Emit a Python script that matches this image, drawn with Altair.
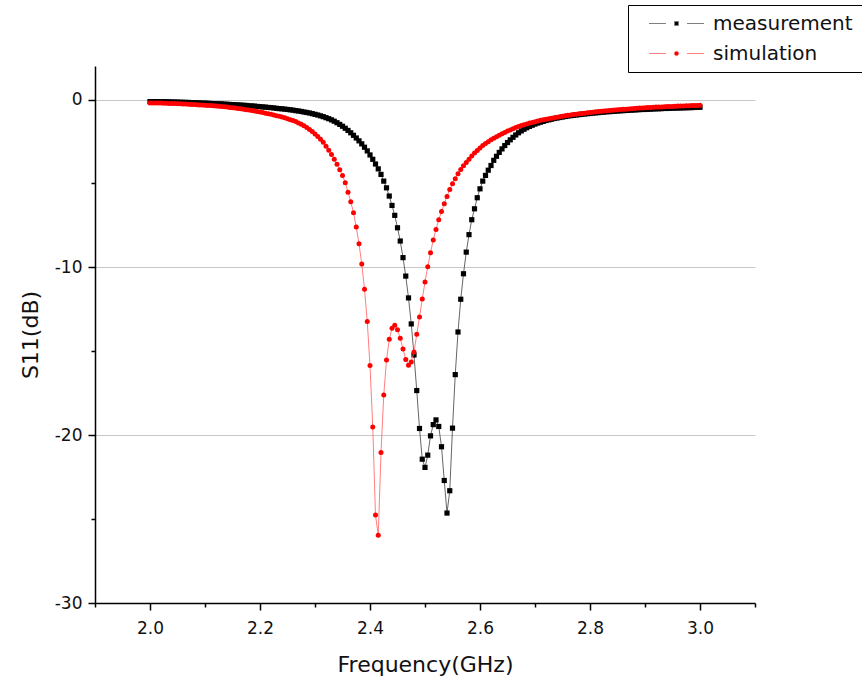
import altair as alt
import pandas as pd

SERIES = ["measurement", "simulation"]
FREQ_START_GHZ = 2.0
FREQ_STEP_GHZ = 0.005

measurement_db = [
    -0.12, -0.12, -0.12, -0.12, -0.13, -0.13, -0.13, -0.14, -0.14, -0.15,
    -0.15, -0.16, -0.16, -0.17, -0.17, -0.18, -0.19, -0.19, -0.20, -0.21,
    -0.21, -0.22, -0.23, -0.24, -0.25, -0.25, -0.26, -0.27, -0.28, -0.29,
    -0.30, -0.31, -0.32, -0.33, -0.34, -0.35, -0.37, -0.38, -0.39, -0.41,
    -0.42, -0.44, -0.45, -0.47, -0.48, -0.50, -0.52, -0.54, -0.55, -0.57,
    -0.59, -0.61, -0.63, -0.66, -0.68, -0.71, -0.74, -0.77, -0.80, -0.84,
    -0.88, -0.92, -0.97, -1.02, -1.08, -1.14, -1.21, -1.29, -1.38, -1.48,
    -1.59, -1.71, -1.84, -1.98, -2.13, -2.29, -2.46, -2.64, -2.84, -3.06,
    -3.30, -3.56, -3.84, -4.13, -4.46, -4.86, -5.26, -5.75, -6.31, -6.90,
    -7.64, -8.43, -9.42, -10.52, -11.82, -13.37, -15.22, -17.34, -19.60, -21.43,
    -21.92, -21.19, -20.04, -19.37, -19.09, -19.48, -20.69, -22.70, -24.64, -23.31,
    -19.58, -16.39, -13.85, -11.90, -10.38, -9.09, -8.05, -7.16, -6.51, -5.85,
    -5.32, -4.86, -4.52, -4.21, -3.93, -3.62, -3.38, -3.15, -2.94, -2.74,
    -2.56, -2.40, -2.25, -2.11, -1.98, -1.87, -1.77, -1.68, -1.60, -1.53,
    -1.46, -1.40, -1.35, -1.30, -1.25, -1.21, -1.17, -1.13, -1.10, -1.07,
    -1.04, -1.01, -0.98, -0.96, -0.94, -0.92, -0.90, -0.88, -0.86, -0.84,
    -0.83, -0.81, -0.79, -0.78, -0.76, -0.75, -0.73, -0.72, -0.71, -0.70,
    -0.68, -0.67, -0.66, -0.65, -0.64, -0.63, -0.62, -0.61, -0.60, -0.59,
    -0.59, -0.58, -0.57, -0.56, -0.55, -0.55, -0.54, -0.53, -0.53, -0.52,
    -0.51, -0.51, -0.50, -0.50, -0.49, -0.49, -0.48, -0.48, -0.47, -0.46,
    -0.46,
]

simulation_db = [
    -0.20, -0.20, -0.20, -0.21, -0.21, -0.22, -0.22, -0.23, -0.23, -0.24,
    -0.25, -0.25, -0.26, -0.27, -0.28, -0.29, -0.30, -0.31, -0.32, -0.33,
    -0.34, -0.35, -0.36, -0.37, -0.39, -0.40, -0.42, -0.43, -0.45, -0.47,
    -0.49, -0.51, -0.53, -0.55, -0.57, -0.60, -0.62, -0.65, -0.68, -0.71,
    -0.74, -0.77, -0.81, -0.84, -0.88, -0.92, -0.96, -1.00, -1.04, -1.09,
    -1.14, -1.20, -1.25, -1.31, -1.39, -1.47, -1.56, -1.66, -1.78, -1.91,
    -2.05, -2.20, -2.36, -2.55, -2.78, -3.02, -3.28, -3.55, -3.85, -4.18,
    -4.52, -4.96, -5.52, -6.09, -6.74, -7.60, -8.59, -9.80, -11.31, -13.23,
    -15.85, -19.51, -24.76, -25.97, -21.03, -17.60, -15.52, -14.29, -13.63, -13.45,
    -13.71, -14.23, -14.86, -15.49, -15.83, -15.64, -15.04, -13.99, -12.96, -11.89,
    -10.87, -9.96, -9.13, -8.37, -7.74, -7.16, -6.67, -6.21, -5.77, -5.36,
    -5.02, -4.72, -4.42, -4.17, -3.95, -3.75, -3.55, -3.36, -3.19, -3.03,
    -2.88, -2.74, -2.62, -2.51, -2.40, -2.30, -2.21, -2.12, -2.04, -1.96,
    -1.88, -1.81, -1.74, -1.67, -1.61, -1.55, -1.50, -1.45, -1.40, -1.36,
    -1.32, -1.28, -1.24, -1.20, -1.17, -1.14, -1.11, -1.08, -1.05, -1.02,
    -0.99, -0.97, -0.94, -0.92, -0.89, -0.87, -0.85, -0.83, -0.81, -0.79,
    -0.77, -0.75, -0.73, -0.71, -0.70, -0.68, -0.66, -0.65, -0.63, -0.62,
    -0.61, -0.59, -0.58, -0.57, -0.56, -0.55, -0.53, -0.52, -0.51, -0.50,
    -0.49, -0.48, -0.47, -0.46, -0.45, -0.45, -0.44, -0.43, -0.42, -0.41,
    -0.41, -0.40, -0.39, -0.39, -0.38, -0.37, -0.37, -0.36, -0.36, -0.35,
    -0.34,
]

X_TICKS = [1.9, 2.0, 2.1, 2.2, 2.3, 2.4, 2.5, 2.6, 2.7, 2.8, 2.9, 3.0, 3.1]
Y_TICKS = [-30, -25, -20, -15, -10, -5, 0]

freq_ghz = [round(FREQ_START_GHZ + FREQ_STEP_GHZ * i, 3) for i in range(len(measurement_db))]

df = pd.DataFrame({
    "freq": freq_ghz + freq_ghz,
    "s11": measurement_db + simulation_db,
    "series": [SERIES[0]] * len(measurement_db) + [SERIES[1]] * len(simulation_db),
})

FONT = "DejaVu Sans"

x_axis = alt.Axis(
    values=X_TICKS,
    labelExpr="round(datum.value*10) % 2 == 0 ? format(datum.value, '.1f') : ''",
    tickSize={"condition": {"test": "round(datum.value*10) % 2 == 0", "value": 7}, "value": 4},
    title="Frequency(GHz)",
    grid=False,
    labelOverlap=False,
    labelFlush=False,
    domainColor="black", domainWidth=1.5,
    tickColor="black", tickWidth=1.5,
    labelFont=FONT, labelFontSize=17, labelColor="#111111", labelPadding=10,
    titleFont=FONT, titleFontSize=22, titleFontWeight="normal", titleColor="#111111",
    titlePadding=18,
)

y_axis = alt.Axis(
    values=Y_TICKS,
    labelExpr="datum.value % 10 == 0 ? (datum.value < 0 ? '-' + abs(datum.value) : '0') : ''",
    tickSize={"condition": {"test": "datum.value % 10 == 0", "value": 7}, "value": 4},
    title="S11(dB)",
    grid=True,
    gridColor="#c8c8c8", gridWidth=1.2,
    gridOpacity={"condition": {"test": "datum.value % 10 == 0 && datum.value > -30", "value": 1}, "value": 0},
    labelOverlap=False,
    labelFlush=False,
    domainColor="black", domainWidth=1.5,
    tickColor="black", tickWidth=1.5,
    labelFont=FONT, labelFontSize=17, labelColor="#111111", labelPadding=6,
    titleFont=FONT, titleFontSize=22, titleFontWeight="normal", titleColor="#111111",
    titlePadding=12,
)

x_enc = alt.X("freq:Q", scale=alt.Scale(domain=[1.9, 3.1], nice=False, zero=False), axis=x_axis)
y_enc = alt.Y("s11:Q", scale=alt.Scale(domain=[-30, 2], nice=False, zero=False), axis=y_axis)

base = alt.Chart(df).encode(x=x_enc, y=y_enc)

meas = base.transform_filter(alt.datum.series == SERIES[0])
sim = base.transform_filter(alt.datum.series == SERIES[1])

line_meas = meas.mark_line(color="#555555", strokeWidth=0.9)
pts_meas = meas.mark_point(shape="square", filled=True, size=27, color="black", opacity=1)
line_sim = sim.mark_line(color="#ff7070", strokeWidth=0.9)
pts_sim = sim.mark_point(shape="circle", filled=True, size=25, color="red", opacity=1)

SQ_PATH = "M-11,0H-4.2M4.2,0H11M-0.8,-0.8H0.8V0.8H-0.8Z"
CI_PATH = "M-11,0H-4.2M4.2,0H11M-0.9,0A0.9,0.9,0,1,0,0.9,0A0.9,0.9,0,1,0,-0.9,0Z"

leg = alt.Legend(
    title=None, orient="none", legendX=533, legendY=-61,
    padding=8.5, strokeColor="black", fillColor="white",
    labelFont=FONT, labelFontSize=20, labelColor="#111111",
    symbolOffset=30, labelOffset=26.5, rowPadding=10,
    symbolSize=25, symbolStrokeWidth=1,
)

legend_layer = base.transform_filter("false").mark_point(
    filled=True, size=25, strokeWidth=1, opacity=1
).encode(
    fill=alt.Fill("series:N", scale=alt.Scale(domain=SERIES, range=["black", "red"]), legend=leg),
    stroke=alt.Stroke("series:N", scale=alt.Scale(domain=SERIES, range=["#7f7f7f", "#ff8080"]), legend=leg),
    shape=alt.Shape("series:N", scale=alt.Scale(domain=SERIES, range=[SQ_PATH, CI_PATH]), legend=leg),
)

chart = alt.layer(line_meas, pts_meas, line_sim, pts_sim, legend_layer).properties(
    width=660,
    height=537,
    autosize=alt.AutoSizeParams(type="none"),
    padding={"left": 95, "top": 66, "right": 107, "bottom": 86},
    background="white",
).configure_view(stroke="transparent")

chart.save("out.html", embed_options={"renderer": "svg", "actions": False})
